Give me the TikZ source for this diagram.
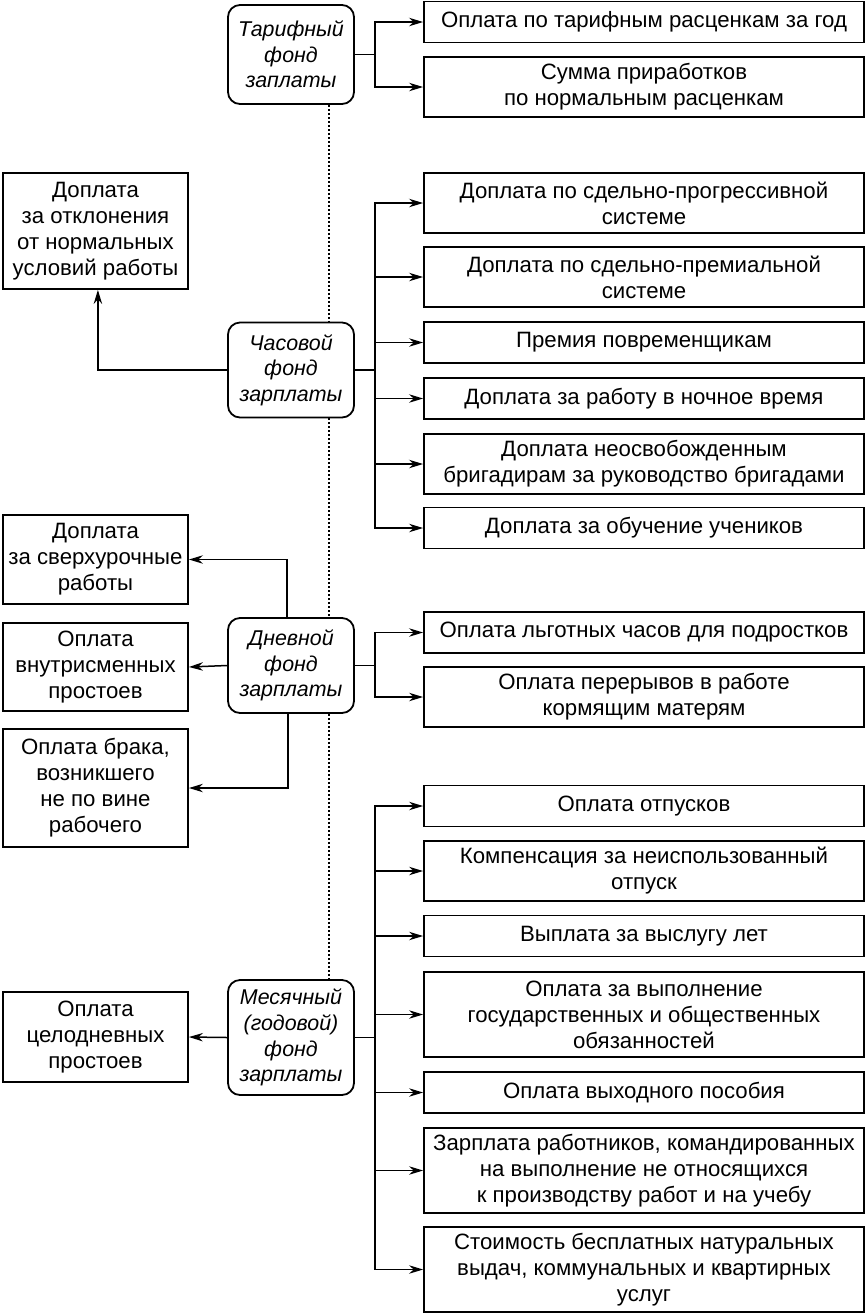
\documentclass[tikz,border=0pt]{standalone}
\usepackage{fontspec}
\setmainfont{Liberation Sans}
\usetikzlibrary{arrows.meta}

\begin{document}
\begin{tikzpicture}[x=0.5pt, y=-0.5pt,
  font=\fontsize{11.1}{13}\selectfont,
  box/.style={draw, line width=0.9pt, fill=white, align=center, inner sep=1pt},
  rbox/.style={box, minimum width=220pt},
  lbox/.style={box, minimum width=92.5pt},
  fund/.style={box, rounded corners=6pt, minimum width=63pt, font=\fontsize{10.7}{12.8}\selectfont\itshape},
  one/.style={minimum height=20.5pt},
  two/.style={minimum height=30pt},
  three/.style={minimum height=42.5pt},
  link/.style={line width=0.75pt},
  >={Stealth[length=7pt,width=4.2pt]}]
\useasboundingbox (0,0) rectangle (868,1314);

%funds
\node [fund, minimum height=49.5pt] (tarif) at (291,54.5) {Тарифный\\фонд\\заплаты};
\node [fund, minimum height=47.5pt] (chas) at (291,370) {Часовой\\фонд\\зарплаты};
\node [fund, minimum height=47.5pt] (dnev) at (291,665.5) {Дневной\\фонд\\зарплаты};
\node [fund, minimum height=57.5pt] (mes) at (291,1037.5) {Месячный\\(годовой)\\фонд\\зарплаты};
\coordinate (trunk) at (375,0);

\draw [dash pattern=on 1pt off 1pt, line width=1pt] ([xshift=19pt]tarif.south) -- ([xshift=19pt]chas.north);
\draw [dash pattern=on 1pt off 1pt, line width=1pt] ([xshift=19pt]chas.south) -- ([xshift=19pt]dnev.north);
\draw [dash pattern=on 1pt off 1pt, line width=1pt] ([xshift=19pt]dnev.south) -- ([xshift=19pt]mes.north);

%tarif
\node [rbox, one] (tarif1) at (644,22) {Оплата по тарифным расценкам за год};
\node [rbox, two] (tarif2) at (644,87) {Сумма приработков\\по нормальным расценкам};
\draw [link] (tarif.east) -- (tarif.east -| trunk);
\draw [link,->] (tarif.east -| trunk) |- (tarif1.west);
\draw [link,->] (tarif.east -| trunk) |- (tarif2.west);

%chas
\node [rbox, two] (chas1) at (644,203) {Доплата по сдельно-прогрессивной\\системе};
\node [rbox, two] (chas2) at (644,277) {Доплата по сдельно-премиальной\\системе};
\node [rbox, one] (chas3) at (644,342.5) {Премия повременщикам};
\node [rbox, one] (chas4) at (644,398.5) {Доплата за работу в ночное время};
\node [rbox, two] (chas5) at (644,464) {Доплата неосвобожденным\\бригадирам за руководство бригадами};
\node [rbox, one] (chas6) at (644,528) {Доплата за обучение учеников};
\draw [link] (chas.east) -- (chas.east -| trunk);
\draw [link,->] (chas.east -| trunk) |- (chas1.west);
\draw [link,->] (chas.east -| trunk) |- (chas2.west);
\draw [link,->] (chas.east -| trunk) |- (chas3.west);
\draw [link,->] (chas.east -| trunk) |- (chas4.west);
\draw [link,->] (chas.east -| trunk) |- (chas5.west);
\draw [link,->] (chas.east -| trunk) |- (chas6.west);

\node [lbox, minimum height=58pt] (chasL) at (95.5,231) {Доплата\\за отклонения\\от нормальных\\условий работы};
\draw [link,->] (chas.west) -| ([xshift=1.2pt]chasL.south);

%dnev
\node [rbox, one] (dnev1) at (644,632.5) {Оплата льготных часов для подростков};
\node [rbox, two] (dnev2) at (644,697) {Оплата перерывов в работе\\кормящим матерям};
\draw [link] (dnev.east) -- (dnev.east -| trunk);
\draw [link,->] (dnev.east -| trunk) |- (dnev1.west);
\draw [link,->] (dnev.east -| trunk) |- (dnev2.west);

\node [lbox, minimum height=44.5pt] (dnevL1) at (95.5,559.5) {Доплата\\за сверхурочные\\работы};
\node [lbox, minimum height=44pt] (dnevL2) at (95.5,667) {Оплата\\внутрисменных\\простоев};
\node [lbox, minimum height=59pt] (dnevL3) at (95.5,788) {Оплата брака,\\возникшего\\не по вине\\рабочего};
\draw [link,->] ([xshift=-2pt]dnev.north) |- (dnevL1.east);
\draw [link,->] (dnev.west) -- (dnevL2.east);
\draw [link,->] ([xshift=-1.5pt]dnev.south) |- (dnevL3.east);

%mes
\node [rbox, one] (mes1) at (644,806) {Оплата отпусков};
\node [rbox, two] (mes2) at (644,871) {Компенсация за неиспользованный\\отпуск};
\node [rbox, one] (mes3) at (644,936) {Выплата за выслугу лет};
\node [rbox, three] (mes4) at (644,1014.5) {Оплата за выполнение\\государственных и общественных\\обязанностей};
\node [rbox, one] (mes5) at (644,1092.5) {Оплата выходного пособия};
\node [rbox, three] (mes6) at (644,1170.5) {Зарплата работников, командированных\\на выполнение не относящихся\\к производству работ и на учебу};
\node [rbox, three] (mes7) at (644,1269.5) {Стоимость бесплатных натуральных\\выдач, коммунальных и квартирных\\услуг};
\draw [link] (mes.east) -- (mes.east -| trunk);
\draw [link,->] (mes.east -| trunk) |- (mes1.west);
\draw [link,->] (mes.east -| trunk) |- (mes2.west);
\draw [link,->] (mes.east -| trunk) |- (mes3.west);
\draw [link,->] (mes.east -| trunk) |- (mes4.west);
\draw [link,->] (mes.east -| trunk) |- (mes5.west);
\draw [link,->] (mes.east -| trunk) |- (mes6.west);
\draw [link,->] (mes.east -| trunk) |- (mes7.west);

\node [lbox, minimum height=45pt] (mesL) at (95.5,1037) {Оплата\\целодневных\\простоев};
\draw [link,->] (mes.west) -- (mesL.east);

\end{tikzpicture}
\end{document}
